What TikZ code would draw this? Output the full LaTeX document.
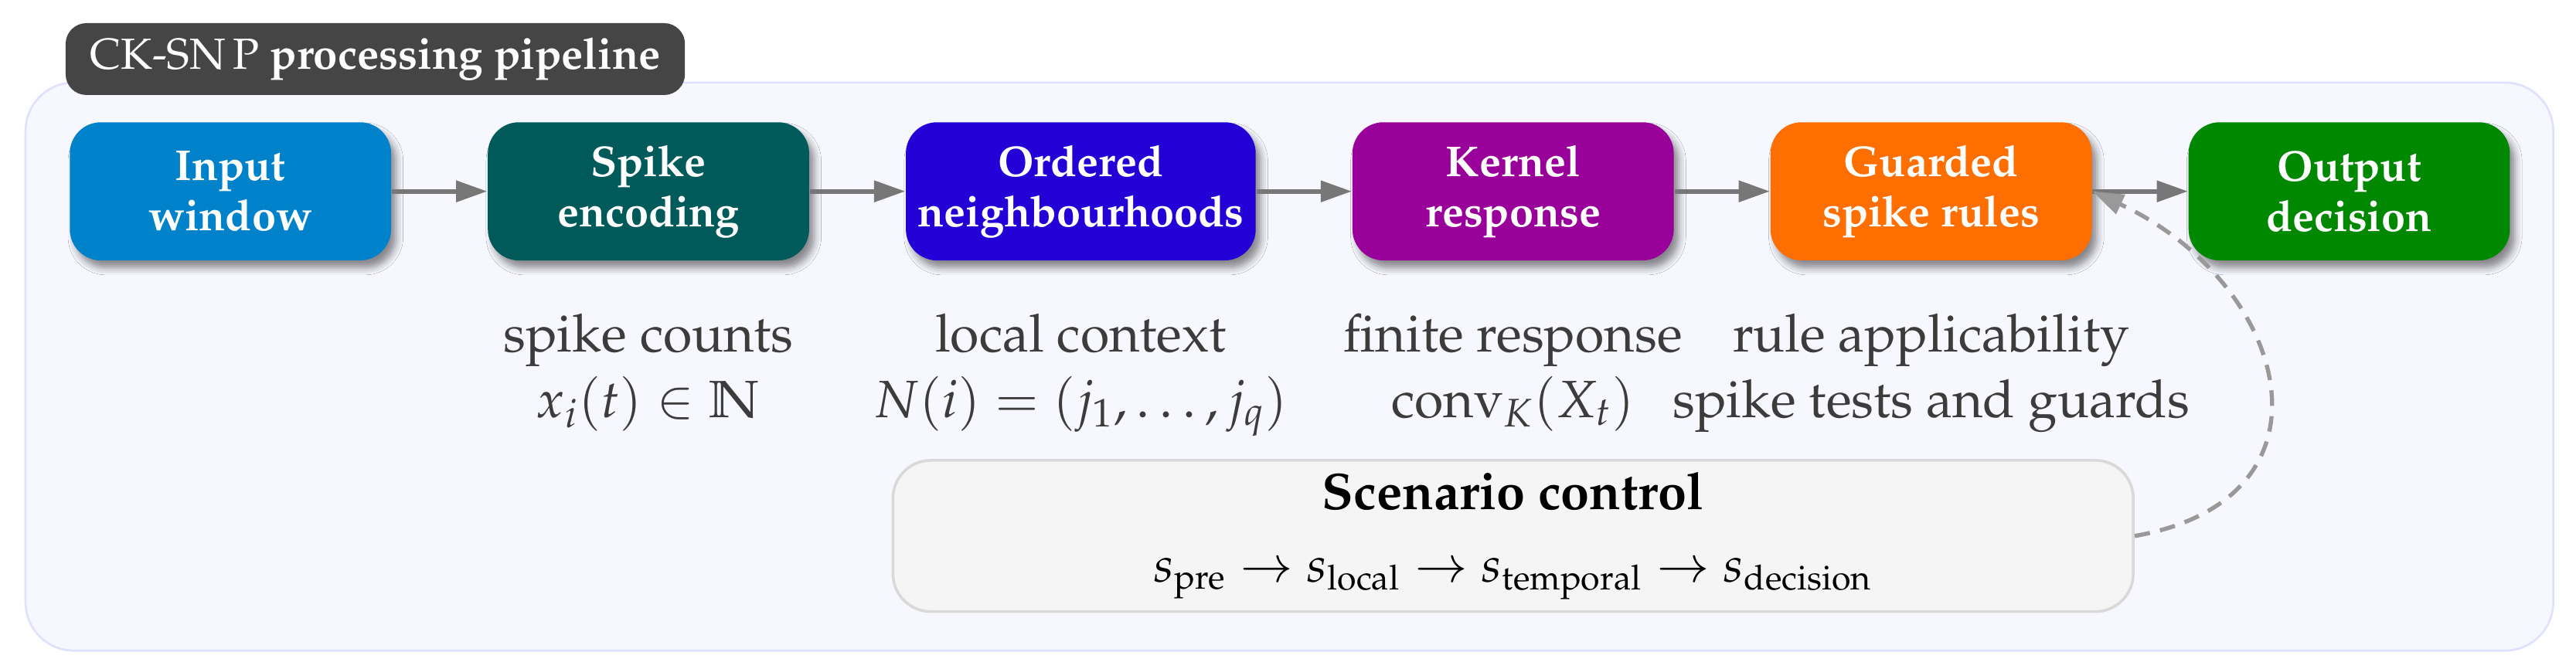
\documentclass[tikz,border=0pt]{standalone}
\usepackage[T1]{fontenc}
\usepackage{mathpazo}
\usetikzlibrary{positioning,arrows.meta,shadows.blur}

\definecolor{inpcol}{HTML}{0082CB}
\definecolor{enccol}{HTML}{005A5A}
\definecolor{nbhcol}{HTML}{2200D6}
\definecolor{kercol}{HTML}{990099}
\definecolor{grdcol}{HTML}{FF6E00}
\definecolor{outcol}{HTML}{008800}
\definecolor{notecol}{HTML}{3C3C3C}
\definecolor{arrcol}{HTML}{777777}
\definecolor{ctrlcol}{HTML}{999999}

\begin{document}
\begin{tikzpicture}[x=1pt,y=1pt,
    stage/.style={rounded corners=9pt, minimum width=93pt, minimum height=40pt,
      inner xsep=3.4pt, text=white, font=\fontsize{12.5}{14.5}\selectfont\bfseries,
      align=center,
      blur shadow={shadow xshift=1.5pt, shadow yshift=-2.2pt,
        shadow blur radius=2pt, shadow opacity=45}},
    note/.style={font=\fontsize{15.2}{18}\selectfont, text=notecol, align=center,
      inner sep=0pt},
    flow/.style={-{Triangle[length=9pt,width=6pt]}, line width=1.3pt, draw=arrcol},
    ctrl/.style={-{Triangle[length=9pt,width=6pt]}, line width=1.2pt, draw=ctrlcol,
      dash pattern=on 4.5pt off 3pt},
    node distance=27.6pt]
    \def\W{745.6}; \def\H{193.7};

    \useasboundingbox (0,0) rectangle (\W,-\H);

    % panel and its tag
    \draw[fill=blue!3, draw=blue!12, line width=0.6pt, rounded corners=14pt]
      (7.4,-23.9) rectangle (739,-188.4);
    \node[fill=black!73, text=white, rounded corners=6pt, minimum height=20.8pt,
      inner xsep=7pt, font=\fontsize{12.6}{15}\selectfont, anchor=west] (tag)
      at (18.8,-17.1) {CK-SN\,P \textbf{processing pipeline}};

    % stages
    \node[stage, fill=inpcol] (inp) at (66.7,-55.4) {Input\\window};
    \node[stage, fill=enccol, right=of inp] (enc) {Spike\\encoding};
    \node[stage, fill=nbhcol, right=of enc] (nbh) {Ordered\\neighbourhoods};
    \node[stage, fill=kercol, right=of nbh] (ker) {Kernel\\response};
    \node[stage, fill=grdcol, right=of ker] (grd) {Guarded\\spike rules};
    \node[stage, fill=outcol, right=of grd] (out) {Output\\decision};

    \draw[flow] (inp) -- (enc); \draw[flow] (enc) -- (nbh); \draw[flow] (nbh) -- (ker);
    \draw[flow] (ker) -- (grd); \draw[flow] (grd) -- (out);

    % notes under the stages
    \node[note, below=15pt of enc] (encnote) {spike counts\\[1pt]$x_i(t)\in\mathbb{N}$};
    \node[note, below=15pt of nbh] (nbhnote) {local context\\[1pt]$N(i)=(j_1,\dots,j_q)$};
    \node[note, below=15pt of ker] (kernote) {finite response\\[1pt]$\mathrm{conv}_K(X_t)$};
    \node[note, below=15pt of grd] (grdnote) {rule applicability\\[1pt]spike tests and guards};

    % scenario control
    \node[fill=black!4, draw=black!15, line width=0.8pt, rounded corners=11pt,
      minimum width=359pt, minimum height=43.8pt, font=\Large, align=center,
      below=57.3pt of ker] (scen)
      {{\fontsize{14.9}{18}\selectfont\bfseries Scenario control}\\[3pt]
       $s_{\mathrm{pre}}\to s_{\mathrm{local}}\to
        s_{\mathrm{temporal}}\to s_{\mathrm{decision}}$};

    \draw[ctrl] (scen.east) to[out=10, in=-25, looseness=1.6] (grd.east);
  \end{tikzpicture}
\end{document}
